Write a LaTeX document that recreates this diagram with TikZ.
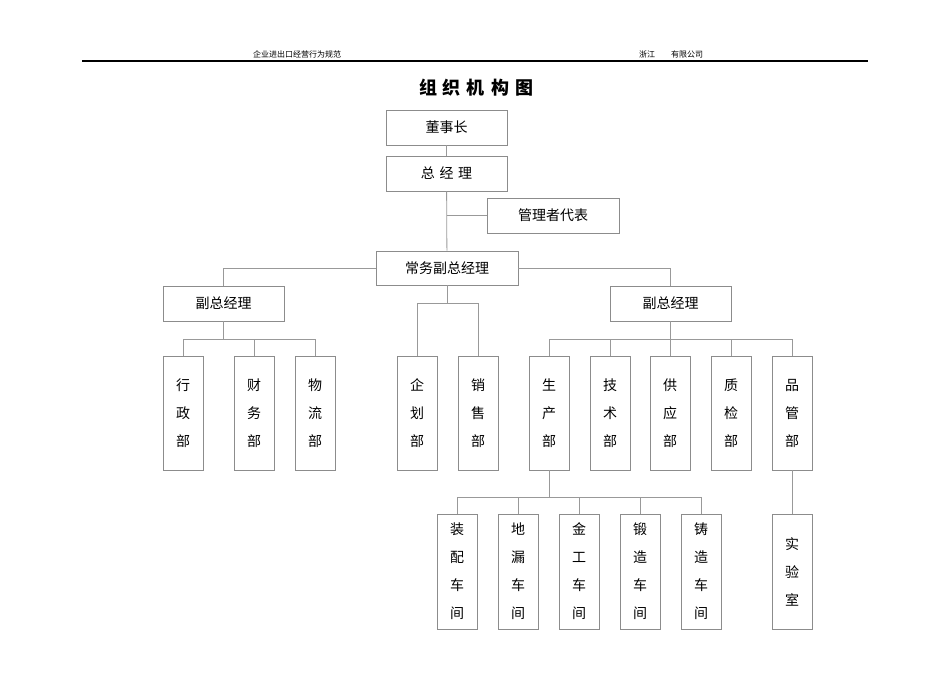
\documentclass[tikz,border=0pt]{standalone}
\usepackage{fontspec}
\newfontfamily\cjk{Noto Sans CJK SC}
\begin{document}
\begin{tikzpicture}[x=1pt,y=-1pt,
  box/.style={draw=black!45,line width=0.8pt,fill=white,inner sep=0pt,font=\cjk\fontsize{14}{14}\selectfont},
  ln/.style={draw=black!40,line width=0.8pt}]
\useasboundingbox (0,0) rectangle (950,672);
\node[font=\cjk\fontsize{8}{8}\selectfont] (h1) at (297,54) {企业进出口经营行为规范};
\node[font=\cjk\fontsize{8}{8}\selectfont] (h2) at (671,54) {浙江\hspace{2em}有限公司};
\draw[line width=1.2pt] (82,61) -- (868,61);
\node[font=\cjk\bfseries\fontsize{18}{18}\selectfont] (title) at (476,88) {组\,\,织\,\,机\,\,构\,\,图};
\newcommand{\hb}[6]{\node[box,minimum width=#4-#2,minimum height=#5-#3] (#1) at ({(#2+#4)/2},{(#3+#5)/2}) {#6};}
\newcommand{\vb}[5]{\node[box,minimum width=40,minimum height=#4-#3,align=center] (#1) at (#2+20,{(#3+#4)/2}) {#5};}
\hb{dsz}{386}{110}{507}{145}{董事长}
\hb{zjl}{386}{156}{507}{191}{总\,\,经\,\,理}
\hb{glz}{487}{198}{619}{233}{管理者代表}
\hb{cw}{376}{251}{518}{285}{常务副总经理}
\hb{fl}{163}{286}{284}{321}{副总经理}
\hb{fr}{610}{286}{731}{321}{副总经理}
\def\vs{\\[14pt]}
\vb{xz}{163}{356}{470}{行\vs 政\vs 部}
\vb{cwb}{234}{356}{470}{财\vs 务\vs 部}
\vb{wl}{295}{356}{470}{物\vs 流\vs 部}
\vb{qh}{397}{356}{470}{企\vs 划\vs 部}
\vb{xs}{458}{356}{470}{销\vs 售\vs 部}
\vb{sc}{529}{356}{470}{生\vs 产\vs 部}
\vb{js}{590}{356}{470}{技\vs 术\vs 部}
\vb{gy}{650}{356}{470}{供\vs 应\vs 部}
\vb{zj}{711}{356}{470}{质\vs 检\vs 部}
\vb{pg}{772}{356}{470}{品\vs 管\vs 部}
\vb{zp}{437}{514}{629}{装\vs 配\vs 车\vs 间}
\vb{dl}{498}{514}{629}{地\vs 漏\vs 车\vs 间}
\vb{jg}{559}{514}{629}{金\vs 工\vs 车\vs 间}
\vb{dz}{620}{514}{629}{锻\vs 造\vs 车\vs 间}
\vb{zz}{681}{514}{629}{铸\vs 造\vs 车\vs 间}
\vb{sys}{772}{514}{629}{实\vs 验\vs 室}
\draw[ln] (dsz) -- (zjl);
\draw[ln] (zjl) -- (cw);
\draw[ln] (zjl.south |- glz.west) -- (glz.west);
\draw[ln] (cw.west) -| (fl.north);
\draw[ln] (cw.east) -| (fr.north);
\foreach \s/\ts in {fl/{xz,cwb,wl},cw/{qh,xs},fr/{sc,js,gy,zj,pg}}{
  \foreach \t in \ts {\draw[ln] (\s.south) -- ++(0,18) -| (\t.north);}
}
\foreach \t in {zp,dl,jg,dz,zz}{\draw[ln] (sc.south) -- ++(0,27) -| (\t.north);}
\draw[ln] (pg) -- (sys);
\end{tikzpicture}
\end{document}
